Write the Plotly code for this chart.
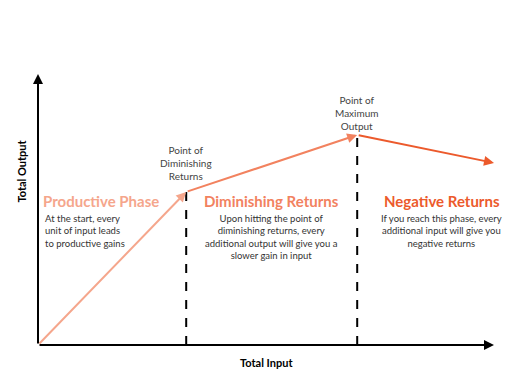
import plotly.graph_objects as go

# Data
inputs = [0, 3.25, 7.0, 10.0]
outputs = [0, 5.65, 7.75, 6.72]
segment_colors = ["#F5A68C", "#F2825F", "#EC5A2C"]
point_labels = ["Point of<br>Diminishing<br>Returns", "Point of<br>Maximum<br>Output"]
phase_titles = ["Productive Phase", "Diminishing Returns", "Negative Returns"]
phase_texts = [
    "At the start, every<br>unit of input leads<br>to productive gains",
    "Upon hitting the point of<br>diminishing returns, every<br>additional output will give you a<br>slower gain in input",
    "If you reach this phase, every<br>additional input will give you<br>negative returns",
]
x_range = [0, 10]
y_range = [0, 10]

FONT = "Lato"
fig = go.Figure()

# dashed verticals at the two critical points
for i in (1, 2):
    fig.add_trace(go.Scatter(x=[inputs[i], inputs[i]], y=[0, outputs[i]], mode="lines",
                             line=dict(color="black", width=2, dash="dash"),
                             hoverinfo="skip", showlegend=False))

ann = []
# curve segments as arrows
for i in range(3):
    ann.append(dict(x=inputs[i + 1], y=outputs[i + 1], ax=inputs[i], ay=outputs[i],
                    xref="x", yref="y", axref="x", ayref="y", showarrow=True,
                    arrowhead=2, arrowsize=1, arrowwidth=2, arrowcolor=segment_colors[i], text=""))
# axes arrows
ann.append(dict(x=x_range[1], y=0, ax=0, ay=0, xref="x", yref="y", axref="x", ayref="y",
                showarrow=True, arrowhead=2, arrowsize=1, arrowwidth=2, arrowcolor="black", text=""))
ann.append(dict(x=0, y=y_range[1], ax=0, ay=0, xref="x", yref="y", axref="x", ayref="y",
                showarrow=True, arrowhead=2, arrowsize=1, arrowwidth=2, arrowcolor="black", text=""))

# point labels
label_shift = [8, 1]
for k, i in enumerate((1, 2)):
    ann.append(dict(x=inputs[i], y=outputs[i], xref="x", yref="y", text=point_labels[k],
                    showarrow=False, yanchor="bottom", yshift=label_shift[k],
                    font=dict(family=FONT, size=10, color="#444444")))

# phase titles and text
title_x = [0.06, (inputs[1] + inputs[2]) / 2, (inputs[2] + inputs[3]) / 2 + 0.35]
title_anchor = ["left", "center", "center"]
for j in range(3):
    ann.append(dict(x=title_x[j], y=5.3, xref="x", yref="y", text="<b>" + phase_titles[j] + "</b>",
                    showarrow=False, xanchor=title_anchor[j], yanchor="middle",
                    font=dict(family=FONT, size=15, color=segment_colors[j])))
    ann.append(dict(x=title_x[j] + (0.05 if j == 0 else 0), y=4.95, xref="x", yref="y",
                    text=phase_texts[j], showarrow=False, xanchor=title_anchor[j],
                    yanchor="top", align=title_anchor[j],
                    font=dict(family=FONT, size=9.5, color="#333333")))

# axis titles
ann.append(dict(x=5.0, y=0, xref="x", yref="y", text="<b>Total Input</b>", showarrow=False,
                yanchor="top", yshift=-9, font=dict(family=FONT, size=11, color="black")))
ann.append(dict(x=0, y=6.4, xref="x", yref="y", text="<b>Total Output</b>", showarrow=False,
                textangle=-90, xanchor="center", xshift=-16, font=dict(family=FONT, size=11, color="black")))

fig.update_layout(
    width=512, height=384,
    margin=dict(l=38, r=18, t=74, b=39),
    paper_bgcolor="white", plot_bgcolor="white",
    xaxis=dict(range=x_range, visible=False, fixedrange=True),
    yaxis=dict(range=y_range, visible=False, fixedrange=True),
    annotations=ann,
    showlegend=False,
)

fig.write_html("out.html")
